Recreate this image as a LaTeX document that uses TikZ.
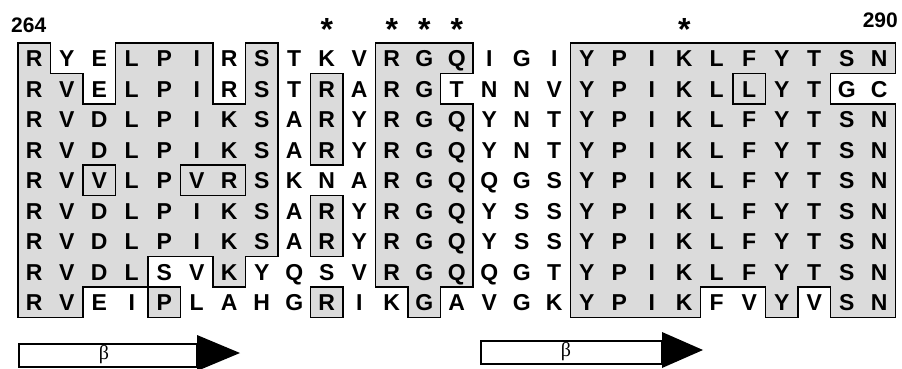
\documentclass[tikz,border=0pt]{standalone}
\usepackage{fontspec}
\setmainfont{Liberation Sans}
\newfontfamily\betafont{Liberation Serif}
\newcommand\resfont{\bfseries\fontsize{23}{23}\selectfont}
\newcommand\numfont{\bfseries\fontsize{21}{21}\selectfont}
\newcommand\starfont{\bfseries\fontsize{32}{32}\selectfont}
\tikzset{
  res/.style={font=\resfont, anchor=base, inner sep=0pt},
  shadefill/.style={fill=black!14},
  outl/.style={line width=1.8pt, line join=miter},
  starlbl/.style={font=\starfont, anchor=base, inner sep=0pt},
  numlbl/.style={font=\numfont, inner sep=0pt},
  betabody/.style={line width=1.3pt, fill=white},
  betahead/.style={fill=black},
  betalbl/.style={font=\betafont\fontsize{20}{20}\selectfont, inner sep=0pt},
}
\begin{document}
\begin{tikzpicture}[x=1pt,y=1pt]
\useasboundingbox (0,0) rectangle (902,-369);
\fill[white] (0,0) rectangle (902,-369);
\begin{scope}[shift={(18pt,-43pt)}, x=32.5pt, y=-30.5pt]
  % shaded regions
  \path[shadefill] (0,0) -- (1,0) -- (1,1) -- (2,1) -- (2,2) -- (3,2) -- (3,0) -- (6,0) -- (6,2) -- (7,2) -- (7,0) -- (8,0) -- (8,7) -- (7,7) -- (7,8) -- (6,8) -- (6,7) -- (4,7) -- (4,8) -- (2,8) -- (2,9) -- (0,9) -- cycle;
  \path[shadefill] (11,0) -- (14,0) -- (14,1) -- (13,1) -- (13,2) -- (14,2) -- (14,8) -- (13,8) -- (13,9) -- (12,9) -- (12,8) -- (11,8) -- cycle;
  \path[shadefill] (17,0) -- (27,0) -- (27,1) -- (25,1) -- (25,2) -- (27,2) -- (27,9) -- (25,9) -- (25,8) -- (24,8) -- (24,9) -- (23,9) -- (23,8) -- (21,8) -- (21,9) -- (17,9) -- cycle;
  \path[shadefill] (4,8) rectangle (5,9);
  \path[shadefill] (9,1) rectangle (10,4);
  \path[shadefill] (9,5) rectangle (10,7);
  \path[shadefill] (9,8) rectangle (10,9);
  % outlines
  \draw[outl] (0,0) -- (1,0) -- (1,1) -- (2,1) -- (2,2) -- (3,2) -- (3,0) -- (6,0) -- (6,2) -- (7,2) -- (7,0) -- (8,0) -- (8,7) -- (7,7) -- (7,8) -- (6,8) -- (6,7) -- (4,7) -- (4,8) -- (2,8) -- (2,9) -- (0,9) -- cycle;
  \draw[outl] (11,0) -- (14,0) -- (14,1) -- (13,1) -- (13,2) -- (14,2) -- (14,8) -- (13,8) -- (13,9) -- (12,9) -- (12,8) -- (11,8) -- cycle;
  \draw[outl] (27,1) -- (27,0) -- (17,0) -- (17,9) -- (21,9) -- (21,8) -- (23,8) -- (23,9) -- (24,9) -- (24,8) -- (25,8) -- (25,9) -- (27,9) -- (27,2) -- (25,2) -- (25,1) -- cycle;
  \draw[outl] (4,8) rectangle (5,9);
  \draw[outl] (2,4) rectangle (3,5);
  \draw[outl] (5,4) rectangle (7,5);
  \draw[outl] (9,1) rectangle (10,4);
  \draw[outl] (9,5) rectangle (10,7);
  \draw[outl] (9,8) rectangle (10,9);
  \draw[outl] (22,1) rectangle (23,2);
  % residues
  \foreach \seq [count=\j] in {
    {R,Y,E,L,P,I,R,S,T,K,V,R,G,Q,I,G,I,Y,P,I,K,L,F,Y,T,S,N},
    {R,V,E,L,P,I,R,S,T,R,A,R,G,T,N,N,V,Y,P,I,K,L,L,Y,T,G,C},
    {R,V,D,L,P,I,K,S,A,R,Y,R,G,Q,Y,N,T,Y,P,I,K,L,F,Y,T,S,N},
    {R,V,D,L,P,I,K,S,A,R,Y,R,G,Q,Y,N,T,Y,P,I,K,L,F,Y,T,S,N},
    {R,V,V,L,P,V,R,S,K,N,A,R,G,Q,Q,G,S,Y,P,I,K,L,F,Y,T,S,N},
    {R,V,D,L,P,I,K,S,A,R,Y,R,G,Q,Y,S,S,Y,P,I,K,L,F,Y,T,S,N},
    {R,V,D,L,P,I,K,S,A,R,Y,R,G,Q,Y,S,S,Y,P,I,K,L,F,Y,T,S,N},
    {R,V,D,L,S,V,K,Y,Q,S,V,R,G,Q,Q,G,T,Y,P,I,K,L,F,Y,T,S,N},
    {R,V,E,I,P,L,A,H,G,R,I,K,G,A,V,G,K,Y,P,I,K,F,V,Y,V,S,N}}
  {
    \foreach \c [count=\i] in \seq {
      \node[res] (r\j-\i) at (\i-0.5, \j-0.221) {\c};
    }
  }
  % stars
  \foreach \i in {10,12,13,14,21} {
    \node[starlbl] (star\i) at (\i-0.5, -0.08) {*};
  }
\end{scope}
\node[numlbl, anchor=base west] (n264) at (11,-33) {264};
\node[numlbl, anchor=base east] (n290) at (898,-28) {290};
% beta strands
\draw[betabody] (19,-344) rectangle (197,-367);
\fill[betahead] (197,-335) -- (240,-353) -- (197,-371) -- cycle;
\node[betalbl] (b1) at (104,-355) {β};
\draw[betabody] (481,-341) rectangle (662,-364);
\fill[betahead] (662,-332) -- (703,-350) -- (662,-368) -- cycle;
\node[betalbl] (b2) at (566,-352) {β};
\end{tikzpicture}
\end{document}
